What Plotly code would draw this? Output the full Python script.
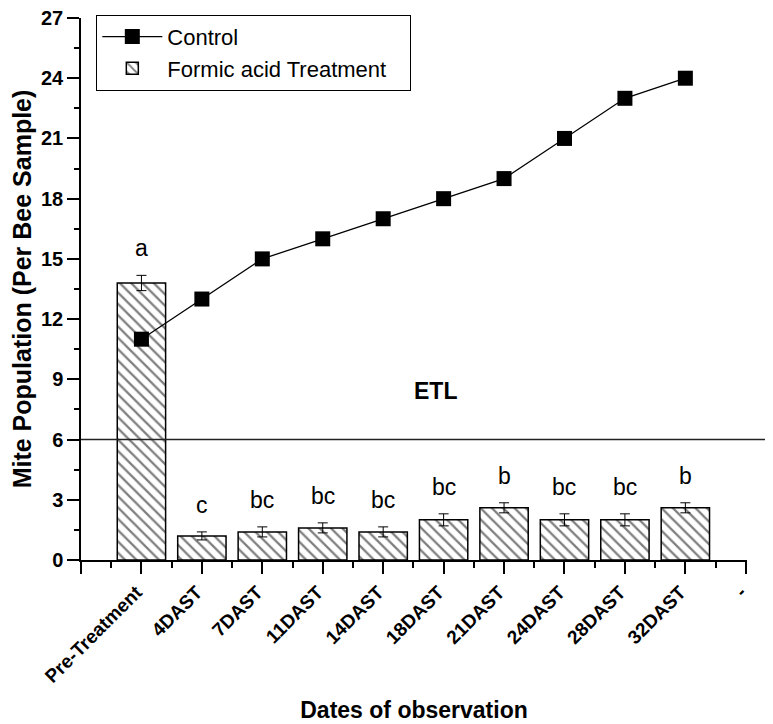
import plotly.graph_objects as go

categories = ["Pre-Treatment", "4DAST", "7DAST", "11DAST", "14DAST", "18DAST",
              "21DAST", "24DAST", "28DAST", "32DAST"]
extra_label = "-"
control = [11, 13, 15, 16, 17, 18, 19, 21, 23, 24]
formic = [13.8, 1.2, 1.4, 1.6, 1.4, 2.0, 2.6, 2.0, 2.0, 2.6]
formic_err = [0.38, 0.2, 0.25, 0.25, 0.25, 0.3, 0.25, 0.3, 0.3, 0.25]
letters = ["a", "c", "bc", "bc", "bc", "bc", "b", "bc", "bc", "b"]
etl_value = 6
y_ticks = [0, 3, 6, 9, 12, 15, 18, 21, 24, 27]

xpos = list(range(len(categories)))
FONT = "Liberation Sans, Arial, sans-serif"

fig = go.Figure()
fig.add_trace(go.Bar(
    x=xpos, y=formic, width=0.8, name="Formic acid Treatment&nbsp;&nbsp;&nbsp;",
    marker=dict(color="white", line=dict(color="black", width=1.5),
                pattern=dict(shape="\\", fgcolor="black", bgcolor="white",
                             size=8, solidity=0.28)),
    error_y=dict(type="data", array=formic_err, color="black",
                 thickness=1, width=5),
    legendrank=2,
))
fig.add_trace(go.Scatter(
    x=xpos, y=control, mode="lines+markers", name="Control",
    line=dict(color="black", width=1.3),
    marker=dict(symbol="square", size=15, color="black"),
    legendrank=1,
))

for i, (v, e, t) in enumerate(zip(formic, formic_err, letters)):
    fig.add_annotation(x=i, y=v + e, text=t, showarrow=False, yanchor="bottom",
                       yshift=12, font=dict(family=FONT, size=23, color="black"))

fig.add_annotation(x=4.87, y=8.4, text="<b>ETL</b>", showarrow=False,
                   font=dict(family=FONT, size=23, color="black"))

fig.add_shape(type="line", xref="paper", yref="y", x0=0, x1=1.05,
              y0=etl_value, y1=etl_value, line=dict(color="#222", width=1.5))

# page body has an 8px margin: figure is sized/offset to land on the reference pixels
fig.update_layout(
    width=765, height=716,
    margin=dict(l=73, r=26, t=10, b=164, autoexpand=False),
    paper_bgcolor="white", plot_bgcolor="white",
    font=dict(family=FONT, color="black"),
    showlegend=True,
    legend=dict(x=0.023, y=1.006, xanchor="left", yanchor="top",
                bordercolor="black", borderwidth=1, bgcolor="white",
                font=dict(family=FONT, size=22, color="black"),
                itemwidth=60, tracegroupgap=0),
    bargap=0.2,
)

fig.update_xaxes(
    automargin=False,
    range=[-1, 10.02], tickmode="array",
    tickvals=[-1] + xpos + [10], ticktext=[""] + categories + [extra_label],
    tickangle=-45, ticks="outside", ticklen=12, tickwidth=1.5, tickcolor="black",
    ticklabelshift=-5,
    tickfont=dict(family=FONT, size=19, weight="bold", color="black"),
    minor=dict(tickvals=[i + 0.5 for i in range(-1, 10)], ticks="outside",
               ticklen=6, tickwidth=1.5, tickcolor="black"),
    showline=True, linecolor="black", linewidth=1.5, showgrid=False, zeroline=False,
    title=dict(text="<b>Dates of observation</b>",
               font=dict(family=FONT, size=23, color="black"), standoff=16),
)
fig.update_yaxes(
    automargin=False,
    range=[0, 27], tickmode="array", tickvals=y_ticks,
    ticks="outside", ticklen=12, tickwidth=1.5, tickcolor="black",
    ticklabeloverflow="allow",
    tickfont=dict(family=FONT, size=20, weight="bold", color="black"),
    minor=dict(dtick=1.5, tick0=0, ticks="outside", ticklen=5, tickwidth=1.5,
               tickcolor="black"),
    showline=True, linecolor="black", linewidth=1.5, showgrid=False, zeroline=False,
    title=dict(text="<b>Mite Population (Per Bee Sample)</b>",
               font=dict(family=FONT, size=25, color="black"), standoff=4),
)

fig.write_html("out.html")
